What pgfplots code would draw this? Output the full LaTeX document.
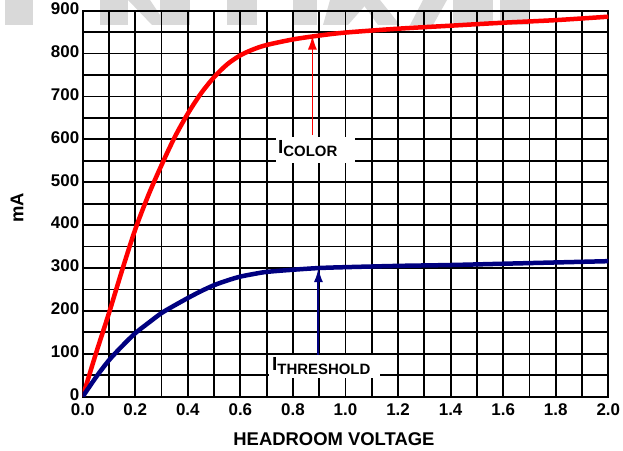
\documentclass[border=0pt]{standalone}
\usepackage{pgfplots}
\pgfplotsset{compat=1.18}
\usepackage{fontspec}
\setmainfont{Liberation Sans}
\usetikzlibrary{arrows.meta}
\definecolor{cred}{RGB}{255,0,0}
\definecolor{cnavy}{RGB}{0,0,128}
\definecolor{wm}{RGB}{217,217,217}
\begin{document}
\begin{tikzpicture}[x=1bp,y=1bp]
\useasboundingbox (0,0) rectangle (623,451);
\begin{scope}[shift={(0,451)},yscale=-1]
\fill[wm] (5,0) rectangle (33,25);
\fill[wm] (100,0) rectangle (128,25);
\fill[wm] (128,0) -- (150,0) -- (162,18) -- (162,25) -- (152,25) -- cycle;
\fill[wm] (160,0) rectangle (190,25);
\fill[wm] (227,0) rectangle (257,25);
\fill[wm] (293,0) rectangle (317,25);
\fill[wm] (330,0) -- (370,0) -- (348,25) -- (323,25) -- cycle;
\fill[wm] (360,0) -- (380,0) -- (400,25) -- (378,25) -- cycle;
\fill[wm] (423,0) -- (447,0) -- (433,25) -- (410,25) -- cycle;
\fill[wm] (453,0) rectangle (493,25);
\fill[wm] (500,0) rectangle (530,25);
\end{scope}
\begin{axis}[
  at={(82.7bp,54.3bp)}, anchor=south west,
  scale only axis, width=525.6bp, height=386bp,
  xmin=0, xmax=2, ymin=0, ymax=900,
  xtick={0,0.2,0.4,0.6,0.8,1.0,1.2,1.4,1.6,1.8,2.0},
  minor x tick num=1,
  ytick={0,100,200,300,400,500,600,700,800,900},
  minor y tick num=1,
  grid=both,
  major grid style={black,line width=1.8bp},
  minor grid style={black,line width=1.8bp},
  axis line style={black,line width=2bp},
  major tick length=0pt, minor tick length=0pt,
  tick label style={font=\fontsize{17}{20}\selectfont\bfseries},
  /pgf/number format/assume math mode=true,
  xticklabel style={anchor=north, text height=12.5bp, text depth=0pt, yshift=-3bp,
    /pgf/number format/.cd,fixed,zerofill,precision=1},
  yticklabel style={yshift=2bp,/pgf/number format/.cd,fixed,precision=0},
  xlabel={HEADROOM VOLTAGE}, ylabel={mA},
  label style={font=\fontsize{18.5}{21}\selectfont\bfseries},
  xlabel style={at={(axis description cs:0.478,-0.11)},anchor=center},
  ylabel style={at={(axis description cs:-0.125,0.49)},anchor=center},
]
\addplot[cred, line width=4.5bp, smooth] coordinates {
(0,0) (0.05,100) (0.1,195) (0.15,295) (0.2,390) (0.25,470) (0.3,540) (0.35,605)
(0.4,660) (0.45,707) (0.5,745) (0.55,775) (0.6,796) (0.65,810) (0.7,820)
(0.8,833) (0.9,842) (1.0,849) (1.2,858) (1.4,865) (1.6,872) (1.8,878) (2.0,886)};
\addplot[cnavy, line width=4.5bp, smooth] coordinates {
(0,0) (0.05,45) (0.1,85) (0.15,118) (0.2,148) (0.25,172) (0.3,195) (0.35,213)
(0.4,230) (0.45,246) (0.5,260) (0.55,271) (0.6,280) (0.65,286) (0.7,291)
(0.8,296) (0.9,300) (1.0,302) (1.2,305) (1.4,307) (1.6,310) (1.8,313) (2.0,316)};
\draw[cred, line width=1.6bp, -{Latex[length=14bp,width=9bp]}] (axis cs:0.874,610) -- (axis cs:0.874,842);
\draw[cnavy, line width=2bp, -{Latex[length=14bp,width=9bp]}] (axis cs:0.897,97) -- (axis cs:0.897,300);
\node[fill=white, inner sep=0pt, minimum width=79bp, minimum height=26bp] at (axis cs:0.886,575) {};
\node[anchor=base west, inner sep=0pt] at (axis cs:0.743,567.5) {{\fontsize{19}{20}\selectfont\bfseries I}{\fontsize{15}{16}\selectfont\bfseries\raisebox{-3.5bp}{COLOR}}};
\node[fill=white, inner sep=0pt, minimum width=111bp, minimum height=23bp] at (axis cs:0.920,70.4) {};
\node[anchor=base west, inner sep=0pt] at (axis cs:0.720,60.6) {{\fontsize{19}{20}\selectfont\bfseries I}{\fontsize{15}{16}\selectfont\bfseries\raisebox{-3.5bp}{THRESHOLD}}};
\end{axis}
\end{tikzpicture}
\end{document}
